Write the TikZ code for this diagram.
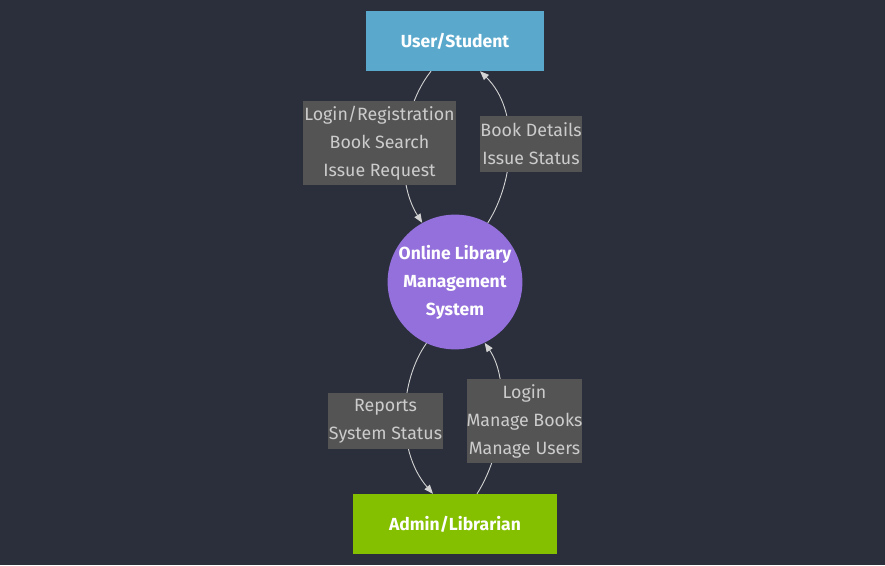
\documentclass[tikz,border=0pt]{standalone}
\usepackage{fontspec}
\setmainfont{Fira Sans}
\usetikzlibrary{arrows.meta}
\definecolor{bgdark}{HTML}{2A2F3B}
\definecolor{userblue}{HTML}{5AA9CD}
\definecolor{sysviolet}{HTML}{9370DB}
\definecolor{admingreen}{HTML}{84BF00}
\definecolor{lblgray}{HTML}{545454}
\definecolor{lbltext}{HTML}{CCCCCC}
\definecolor{edgegray}{HTML}{D3D3D3}
\tikzset{
  entity/.style={draw=none, inner sep=0, text=white, font=\fontsize{17.5}{28}\selectfont\bfseries, align=center},
  flowlbl/.style={fill=lblgray, text=lbltext, inner sep=0, align=center, font=\fontsize{17.8}{28}\selectfont},
  flow/.style={draw=edgegray, line width=0.9pt, -{Triangle[length=9pt,width=7pt]}},
}
\begin{document}
\begin{tikzpicture}[x=1pt, y=-1pt]
\fill[bgdark] (0,0) rectangle (885,565);
\useasboundingbox (0,0) rectangle (885,565);
% Entities
\node[entity, fill=userblue, minimum width=178pt, minimum height=60pt] (user) at (455,41) {User/Student};
\node[entity, fill=sysviolet, circle, minimum size=134pt] (olms) at (455,282) {Online Library\\Management\\System};
\node[entity, fill=admingreen, minimum width=204pt, minimum height=60pt] (admin) at (455,524) {Admin/Librarian};
% Flows
\draw [flow] ([xshift=-24pt]user.south) .. controls (400,110) and (395,180) .. (olms.119);
\draw [flow] (olms.61) .. controls (515,180) and (520,110) .. ([xshift=25pt]user.south);
\draw [flow] (olms.-115) .. controls (400,380) and (395,450) .. ([xshift=-22pt]admin.north);
\draw [flow] ([xshift=22pt]admin.north) .. controls (505,450) and (510,380) .. (olms.-64);
% Labels
\node[flowlbl, minimum width=153pt, minimum height=84pt] (l1) at (379.5,143) {Login/Registration\\Book Search\\Issue Request};
\node[flowlbl, minimum width=102pt, minimum height=56pt] (l2) at (531,143.5) {Book Details\\Issue Status};
\node[flowlbl, minimum width=115pt, minimum height=56pt] (l3) at (385.5,421) {Reports\\System Status};
\node[flowlbl, minimum width=115pt, minimum height=84pt] (l4) at (524.5,421) {Login\\Manage Books\\Manage Users};
\end{tikzpicture}
\end{document}
